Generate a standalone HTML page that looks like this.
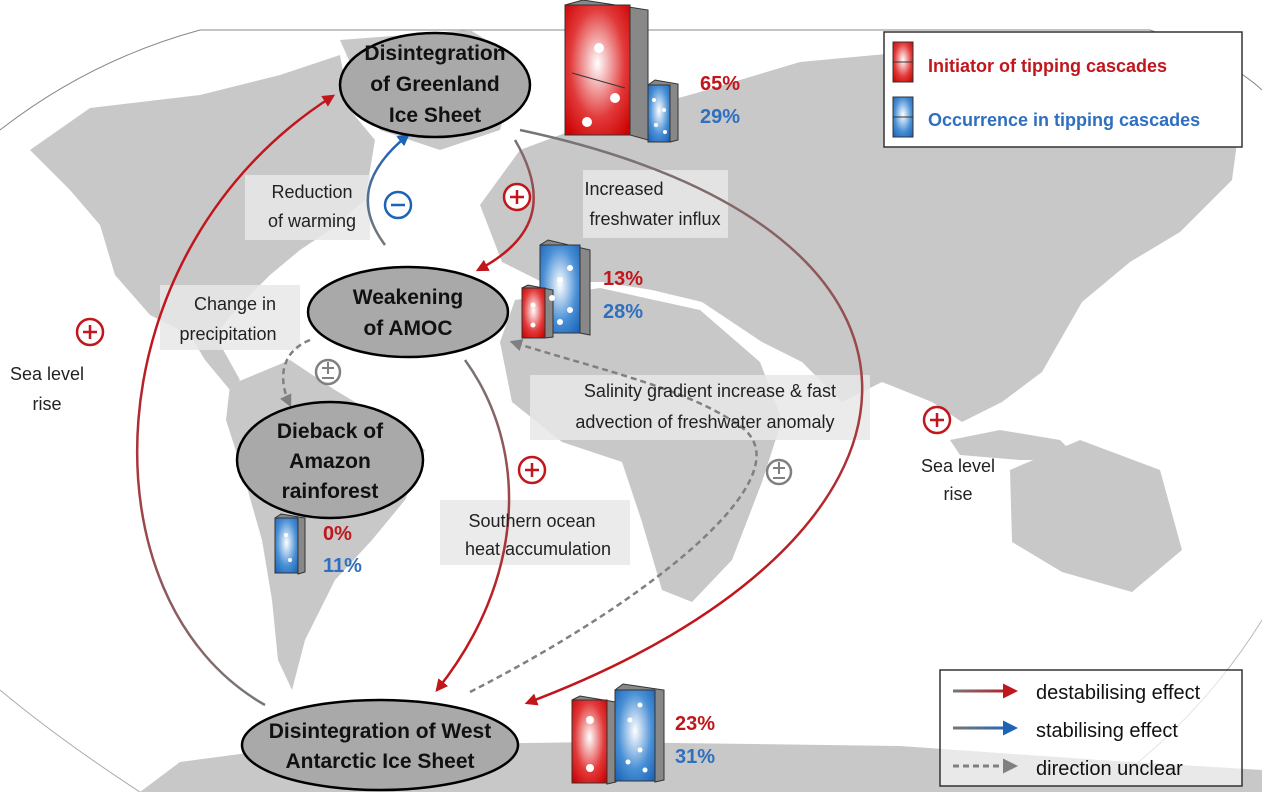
<!DOCTYPE html>
<html><head><meta charset="utf-8"><style>
html,body{margin:0;padding:0;background:#fff}
svg{display:block}
text{font-family:"Liberation Sans",sans-serif}
</style></head><body>
<svg width="1262" height="792" viewBox="0 0 1262 792" xmlns="http://www.w3.org/2000/svg">
<defs>
<radialGradient id="rg" cx="0.5" cy="0.45" r="0.7"><stop offset="0" stop-color="#fff"/><stop offset="0.6" stop-color="#e23a3a"/><stop offset="1" stop-color="#c00"/></radialGradient>
<radialGradient id="bg" cx="0.5" cy="0.45" r="0.7"><stop offset="0" stop-color="#fff"/><stop offset="0.6" stop-color="#4a90d6"/><stop offset="1" stop-color="#1c64b8"/></radialGradient>
<linearGradient id="gr1" x1="0" y1="1" x2="0" y2="0"><stop offset="0" stop-color="#777"/><stop offset="0.6" stop-color="#c0161c"/></linearGradient>
<linearGradient id="gr2" x1="0" y1="0" x2="0" y2="1"><stop offset="0" stop-color="#777"/><stop offset="0.8" stop-color="#c0161c"/></linearGradient>
<linearGradient id="gb" x1="0" y1="1" x2="0" y2="0"><stop offset="0" stop-color="#777"/><stop offset="1" stop-color="#1c64b8"/></linearGradient>
<linearGradient id="lr" gradientUnits="userSpaceOnUse" x1="953" y1="0" x2="1015" y2="0"><stop offset="0" stop-color="#777"/><stop offset="1" stop-color="#c0161c"/></linearGradient>
<linearGradient id="lb" gradientUnits="userSpaceOnUse" x1="953" y1="0" x2="1015" y2="0"><stop offset="0" stop-color="#777"/><stop offset="1" stop-color="#1c64b8"/></linearGradient>
<marker id="ar" viewBox="0 0 10 10" refX="8" refY="5" markerWidth="5" markerHeight="5" orient="auto"><path d="M0,0L10,5L0,10z" fill="#c0161c"/></marker>
<marker id="ab" viewBox="0 0 10 10" refX="8" refY="5" markerWidth="5" markerHeight="5" orient="auto"><path d="M0,0L10,5L0,10z" fill="#1c64b8"/></marker>
<marker id="ag" viewBox="0 0 10 10" refX="8" refY="5" markerWidth="5" markerHeight="5" orient="auto"><path d="M0,0L10,5L0,10z" fill="#808080"/></marker>
</defs>
<path d="M0,130 Q90,60 200,30 L1150,30 Q1230,60 1262,90" fill="none" stroke="#888" stroke-width="1"/>
<path d="M0,690 Q60,740 140,792" fill="none" stroke="#aaa" stroke-width="1"/>
<path d="M1262,620 Q1200,720 1100,792" fill="none" stroke="#bbb" stroke-width="1"/>
<g fill="#c8c8c8">
<path d="M30,150 L90,108 L200,95 L280,75 L340,55 L350,110 L375,140 L365,200 L330,230 L300,250 L270,275 L240,305 L215,335 L190,335 L150,315 L115,275 L100,225 L70,190z"/>
<path d="M340,40 L470,30 L520,60 L500,130 L440,150 L380,130z"/>
<path d="M190,335 L215,335 L240,380 L230,390 L205,360z"/>
<path d="M230,385 L290,360 L335,390 L385,420 L425,450 L405,500 L372,540 L335,580 L305,640 L292,690 L278,660 L272,600 L262,540 L242,470 L226,420z"/>
<path d="M480,205 L520,150 L600,120 L700,92 L800,62 L950,48 L1100,60 L1200,80 L1240,120 L1232,180 L1180,232 L1130,262 L1082,302 L1042,372 L1002,402 L962,422 L932,402 L882,382 L842,402 L802,362 L762,342 L702,302 L652,290 L602,282 L542,282 L502,262z"/>
<path d="M515,300 L600,288 L700,310 L760,362 L782,420 L762,482 L732,560 L692,602 L662,590 L642,522 L622,462 L562,442 L512,402 L500,342z"/>
<path d="M1010,470 L1080,440 L1160,470 L1182,550 L1132,592 L1062,572 L1012,542z"/>
<path d="M950,440 L1000,430 L1060,440 L1080,460 L1020,460 L960,455z"/>
<path d="M140,792 L180,762 L300,746 L600,742 L900,746 L1100,760 L1262,770 L1262,792z"/>
</g>
<g fill="#e8e8e8" opacity="0.85">
<rect x="245" y="175" width="125" height="65"/>
<rect x="583" y="170" width="145" height="68"/>
<rect x="160" y="285" width="140" height="65"/>
<rect x="530" y="375" width="340" height="65"/>
<rect x="440" y="500" width="190" height="65"/>
</g>
<path d="M265,705 C80,600 90,250 333,96" fill="none" stroke="url(#gr1)" stroke-width="2.5" marker-end="url(#ar)"/>
<path d="M385,245 C355,205 365,170 408,135" fill="none" stroke="url(#gb)" stroke-width="2.5" marker-end="url(#ab)"/>
<path d="M515,140 C550,200 535,240 478,270" fill="none" stroke="url(#gr2)" stroke-width="2.5" marker-end="url(#ar)"/>
<path d="M520,130 C990,230 960,540 527,703" fill="none" stroke="url(#gr2)" stroke-width="2.5" marker-end="url(#ar)"/>
<path d="M465,360 C530,450 525,580 437,690" fill="none" stroke="url(#gr2)" stroke-width="2.5" marker-end="url(#ar)"/>
<path d="M310,340 C280,352 278,380 290,405" fill="none" stroke="#808080" stroke-width="2.5" stroke-dasharray="6,4" marker-end="url(#ag)"/>
<path d="M470,692 C650,600 800,480 745,430 C695,390 600,370 512,342" fill="none" stroke="#808080" stroke-width="2.5" stroke-dasharray="6,4" marker-end="url(#ag)"/>
<g fill="#a9a9a9" stroke="#000" stroke-width="2.5">
<ellipse cx="435" cy="85" rx="95" ry="52"/>
<ellipse cx="408" cy="312" rx="100" ry="45"/>
<ellipse cx="330" cy="460" rx="93" ry="58"/>
<ellipse cx="380" cy="745" rx="138" ry="45"/>
</g>
<g font-size="21" font-weight="bold" text-anchor="middle" fill="#111">
<text x="435" y="60">Disintegration</text><text x="435" y="91">of Greenland</text><text x="435" y="122">Ice Sheet</text>
<text x="408" y="304">Weakening</text><text x="408" y="335">of AMOC</text>
<text x="330" y="438">Dieback of</text><text x="330" y="468">Amazon</text><text x="330" y="498">rainforest</text>
<text x="380" y="738">Disintegration of West</text><text x="380" y="768">Antarctic Ice Sheet</text>
</g>
<g font-size="18" fill="#222" text-anchor="middle">
<text x="312" y="198">Reduction</text><text x="312" y="227">of warming</text>
<text x="624" y="195">Increased</text><text x="655" y="225">freshwater influx</text>
<text x="235" y="310">Change in</text><text x="228" y="340">precipitation</text>
<text x="47" y="380">Sea level</text><text x="47" y="410">rise</text>
<text x="710" y="397">Salinity gradient increase &amp; fast</text><text x="705" y="428">advection of freshwater anomaly</text>
<text x="532" y="527">Southern ocean</text><text x="538" y="555">heat accumulation</text>
<text x="958" y="472">Sea level</text><text x="958" y="500">rise</text>
</g>
<g fill="#fff" stroke-width="2.5">
<circle cx="517" cy="197" r="13" stroke="#c0161c"/><circle cx="90" cy="332" r="13" stroke="#c0161c"/>
<circle cx="532" cy="470" r="13" stroke="#c0161c"/><circle cx="937" cy="420" r="13" stroke="#c0161c"/>
<circle cx="398" cy="205" r="13" stroke="#1c64b8"/>
<circle cx="328" cy="372" r="12" stroke="#808080"/><circle cx="779" cy="472" r="12" stroke="#808080"/>
</g>
<g stroke-width="2.5">
<path d="M510,197h14M517,190v14M83,332h14M90,325v14M525,470h14M532,463v14M930,420h14M937,413v14" stroke="#c0161c"/>
<path d="M391,205h14" stroke="#1c64b8"/>
<path d="M322,368h12M328,362v12M322,378h12M773,468h12M779,462v12M773,478h12" stroke="#808080" stroke-width="2"/>
</g>
<g stroke="#333" stroke-width="1">
<path d="M565,5 L583,0 L648,10 L648,140 L630,135z" fill="#888"/>
<rect x="565" y="5" width="65" height="130" fill="url(#rg)"/>
<line x1="572" y1="73" x2="625" y2="88"/>
<path d="M648,85 L655,80 L678,84 L678,140 L670,142z" fill="#888"/>
<rect x="648" y="85" width="22" height="57" fill="url(#bg)"/>
<path d="M540,245 L548,240 L590,250 L590,335 L580,333z" fill="#888"/>
<rect x="540" y="245" width="40" height="88" fill="url(#bg)"/>
<path d="M522,288 L528,285 L553,290 L553,337 L545,338z" fill="#888"/>
<rect x="522" y="288" width="23" height="50" fill="url(#rg)"/>
<path d="M275,518 L281,514 L305,518 L305,572 L298,574z" fill="#888"/>
<rect x="275" y="518" width="23" height="55" fill="url(#bg)"/>
<path d="M572,700 L580,696 L616,702 L616,782 L607,784z" fill="#888"/>
<rect x="572" y="700" width="35" height="83" fill="url(#rg)"/>
<path d="M615,690 L623,684 L664,690 L664,780 L655,782z" fill="#888"/>
<rect x="615" y="690" width="40" height="91" fill="url(#bg)"/>
</g>
<g fill="#fff">
<circle cx="599" cy="48" r="5"/><circle cx="615" cy="98" r="5"/><circle cx="587" cy="122" r="5"/>
<circle cx="654" cy="100" r="2"/><circle cx="664" cy="110" r="2"/><circle cx="656" cy="125" r="2"/><circle cx="665" cy="132" r="2"/>
<circle cx="570" cy="268" r="3"/><circle cx="560" cy="280" r="3"/><circle cx="552" cy="298" r="3"/><circle cx="570" cy="310" r="3"/><circle cx="560" cy="322" r="3"/>
<circle cx="533" cy="305" r="2.5"/><circle cx="533" cy="325" r="2.5"/>
<circle cx="286" cy="535" r="2"/><circle cx="290" cy="560" r="2"/>
<circle cx="590" cy="720" r="4"/><circle cx="590" cy="768" r="4"/>
<circle cx="640" cy="705" r="2.5"/><circle cx="630" cy="720" r="2.5"/><circle cx="640" cy="750" r="2.5"/><circle cx="628" cy="762" r="2.5"/><circle cx="645" cy="770" r="2.5"/>
</g>
<g font-size="20" font-weight="bold">
<text x="700" y="90" fill="#c0161c">65%</text><text x="700" y="123" fill="#2f6fc0">29%</text>
<text x="603" y="285" fill="#c0161c">13%</text><text x="603" y="318" fill="#2f6fc0">28%</text>
<text x="323" y="540" fill="#c0161c">0%</text><text x="323" y="572" fill="#2f6fc0">11%</text>
<text x="675" y="730" fill="#c0161c">23%</text><text x="675" y="763" fill="#2f6fc0">31%</text>
</g>
<rect x="884" y="32" width="358" height="115" fill="#fff" stroke="#333" stroke-width="1.5"/>
<rect x="893" y="42" width="20" height="40" fill="url(#rg)" stroke="#333"/><line x1="893" y1="62" x2="913" y2="62" stroke="#333"/>
<rect x="893" y="97" width="20" height="40" fill="url(#bg)" stroke="#333"/><line x1="893" y1="117" x2="913" y2="117" stroke="#333"/>
<text x="928" y="72" font-size="18" font-weight="bold" fill="#c0161c">Initiator of tipping cascades</text>
<text x="928" y="126" font-size="18" font-weight="bold" fill="#2f6fc0">Occurrence in tipping cascades</text>
<rect x="940" y="670" width="302" height="116" fill="#fff" fill-opacity="0.6" stroke="#333" stroke-width="1.5"/>
<path d="M953,691 L1015,691" stroke="url(#lr)" stroke-width="3" fill="none" marker-end="url(#ar)"/>
<path d="M953,728 L1015,728" stroke="url(#lb)" stroke-width="3" fill="none" marker-end="url(#ab)"/>
<path d="M953,766 L1015,766" stroke="#808080" stroke-width="3" fill="none" stroke-dasharray="6,4" marker-end="url(#ag)"/>
<g font-size="20" fill="#111"><text x="1036" y="699">destabilising effect</text><text x="1036" y="737">stabilising effect</text><text x="1036" y="775">direction unclear</text></g>
</svg>
</body></html>
